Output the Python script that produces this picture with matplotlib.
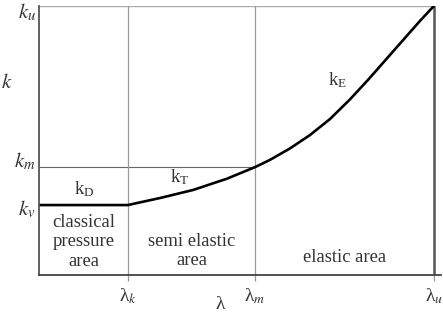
import matplotlib
matplotlib.use("Agg")
import matplotlib.pyplot as plt

plt.rcParams['font.family'] = ['Liberation Serif', 'DejaVu Serif']
plt.rcParams['mathtext.fontset'] = 'stix'

# positions on the lambda axis (arbitrary units) and k levels
lam_k = 2.25
lam_m = 5.47
lam_u = 10.0
k_v = 2.60
k_m = 4.01
k_u = 10.0

# k(lambda) curve
curve_x = [0.0, 2.25, 2.56, 3.06, 3.90, 4.76, 5.47, 5.85, 6.35, 6.86, 7.37,
           7.87, 8.33, 8.96, 9.65, 10.0]
curve_y = [2.60, 2.60, 2.70, 2.86, 3.16, 3.58, 4.01, 4.28, 4.70, 5.20, 5.80,
           6.52, 7.25, 8.30, 9.45, 10.0]

x_ticks = [lam_k, lam_m, lam_u]
x_labels = [r'λ$_{\it k}$', r'λ$_{\it m}$', r'λ$_{\it u}$']
y_ticks = [k_v, k_m, k_u]
y_labels = [r'$k_v$', r'$k_m$', r'$k_u$']
y_offsets = [-4, 6, -6]  # pixel nudges of the k labels

txt = '#333333'
grid = '#9a9a9a'

fig = plt.figure(figsize=(4.43, 3.14), dpi=100)
ax = fig.add_axes([39 / 443, 39 / 314, 402 / 443, 269 / 314])
ax.set_xlim(0, 10.18)
ax.set_ylim(0, 10)

# frame
for s in ['top', 'right']:
    ax.spines[s].set_visible(False)
ax.spines['left'].set_color('#555555')
ax.spines['left'].set_linewidth(1.3)
ax.spines['bottom'].set_color('#444444')
ax.spines['bottom'].set_linewidth(1.3)

# guide lines
ax.hlines(k_u, 0, lam_u, color='#aaaaaa', lw=1.0)
ax.hlines(k_m, 0, lam_m, color='#666666', lw=0.8)
ax.vlines([lam_k, lam_m], 0, k_u, color=grid, lw=0.9)
ax.vlines(lam_u, 0, k_u, color='#555555', lw=1.8)

ax.plot(curve_x, curve_y, color='black', lw=1.9, solid_joinstyle='round')

ax.set_xticks(x_ticks)
ax.set_xticklabels(x_labels, fontsize=14, color=txt)
ax.tick_params(axis='x', length=4, width=0.9, color=grid, pad=4)
ax.set_yticks([])
for yv, lab, off in zip(y_ticks, y_labels, y_offsets):
    ax.annotate(lab, xy=(0, yv), xytext=(-3, off), textcoords='offset pixels',
                ha='right', va='center', fontsize=15, color=txt)

# region and curve labels
ax.text((0 + lam_k) / 2, 1.23, 'classical\npressure\narea', ha='center', va='center',
        fontsize=13.4, color=txt, linespacing=1.2)
ax.text((lam_k + lam_m) / 2, 0.89, 'semi elastic\narea', ha='center', va='center',
        fontsize=13.4, color=txt, linespacing=1.2)
ax.text(7.75, 0.65, 'elastic area', ha='center', va='center', fontsize=13.4, color=txt)
ax.text(1.14, 3.19, r'k$_\mathregular{D}$', ha='center', va='center', fontsize=13.5, color=txt)
ax.text(3.57, 3.64, r'k$_\mathregular{T}$', ha='center', va='center', fontsize=13.5, color=txt)
ax.text(7.57, 7.26, r'k$_\mathregular{E}$', ha='center', va='center', fontsize=13.5, color=txt)

# axis names at the figure edges
fig.text(1 / 443, 1 - 83 / 314, r'$k$', ha='left', va='center', fontsize=15, color=txt)
fig.text(220 / 443, 1 / 314, 'λ', ha='center', va='bottom', fontsize=14, color=txt)

fig.savefig('out.png', dpi=100)
